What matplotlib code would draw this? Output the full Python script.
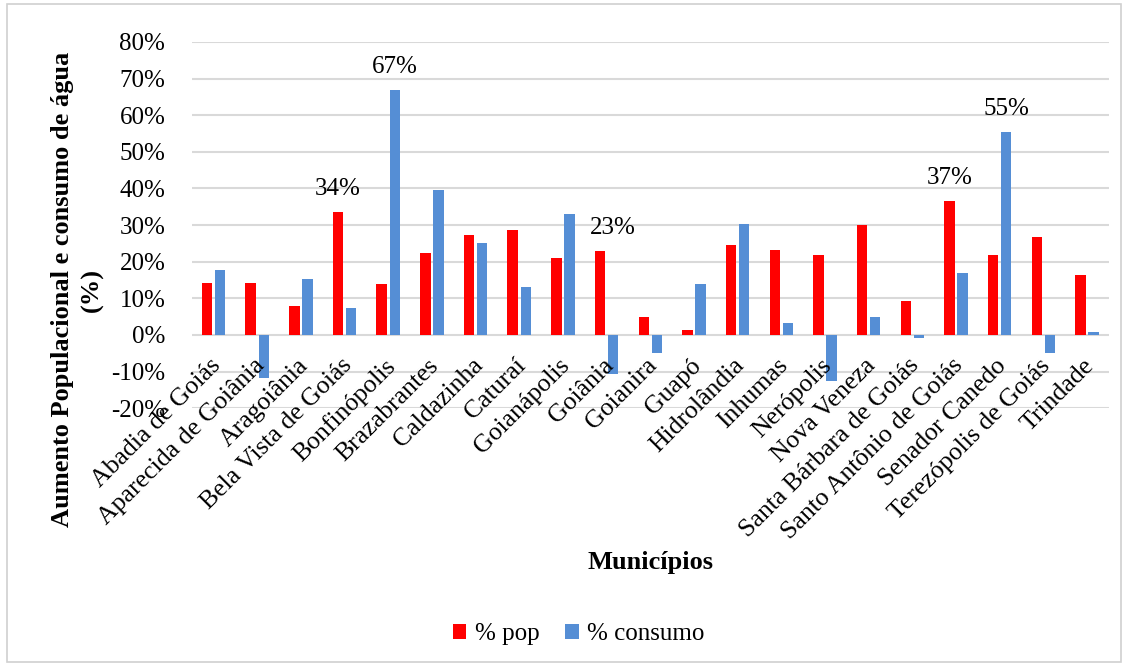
import numpy as np
import matplotlib
matplotlib.use('Agg')
import matplotlib.pyplot as plt
from matplotlib.patches import Rectangle

plt.rcParams['font.family'] = ['Liberation Serif', 'DejaVu Serif']

municipios = ['Abadia de Goiás', 'Aparecida de Goiânia', 'Aragoiânia', 'Bela Vista de Goiás',
              'Bonfinópolis', 'Brazabrantes', 'Caldazinha', 'Caturaí', 'Goianápolis', 'Goiânia',
              'Goianira', 'Guapó', 'Hidrolândia', 'Inhumas', 'Nerópolis', 'Nova Veneza',
              'Santa Bárbara de Goiás', 'Santo Antônio de Goiás', 'Senador Canedo',
              'Terezópolis de Goiás', 'Trindade']
pop = [14.3, 14.2, 7.9, 33.5, 13.8, 22.5, 27.4, 28.7, 21.0, 23.0,
       4.8, 1.4, 24.6, 23.1, 21.9, 29.9, 9.4, 36.6, 21.9, 26.7, 16.3]
consumo = [17.7, -11.7, 15.2, 7.5, 66.8, 39.7, 25.2, 13.0, 33.0, -10.6,
           -4.8, 13.8, 30.4, 3.3, -12.6, 4.8, -0.9, 16.9, 55.3, -4.9, 0.9]
# labelled bars: (index, series)
rotulos = [(3, 'pop'), (4, 'consumo'), (9, 'pop'), (17, 'pop'), (18, 'consumo')]

fig = plt.figure(figsize=(11.28, 6.66), dpi=100)
fig.patches.append(Rectangle((0.006, 0.006), 0.988, 0.988, transform=fig.transFigure,
                             fill=False, edgecolor='#d0d0d0', linewidth=1.2))
ax = fig.add_axes([0.170, 0.387, 0.813, 0.550])

x = np.arange(len(municipios))
w = 0.24
ax.bar(x - 0.15, pop, w, color='#ff0000', label='% pop', zorder=3)
ax.bar(x + 0.15, consumo, w, color='#558ed5', label='% consumo', zorder=3)

for i, s in rotulos:
    if s == 'pop':
        v, xo = pop[i], x[i] - 0.15
    else:
        v, xo = consumo[i], x[i] + 0.15
    dx = 0.3 if i == 9 else 0
    ax.text(xo + dx, v + 3.3, f'{round(v)}%', ha='center', va='bottom', fontsize=18)

ax.set_xlim(-0.5, len(municipios) - 0.5)
ax.set_ylim(-20, 80)
ax.set_yticks(np.arange(-20, 81, 10))
ax.set_yticklabels([f'{t}%' for t in range(-20, 81, 10)], fontsize=18)
ax.yaxis.grid(True, color='#d9d9d9', linewidth=1.5, zorder=0)
ax.set_axisbelow(True)
ax.tick_params(axis='y', length=0, pad=19)
ax.set_xticks([])
for sp in ax.spines.values():
    sp.set_visible(False)

for i, nome in enumerate(municipios):
    ax.annotate(nome, xy=(x[i], 0), xytext=(-3, -14), textcoords='offset points',
                rotation=45, ha='right', va='top', rotation_mode='anchor', fontsize=18.5)

fig.text(0.055, 0.565, 'Aumento Populacional e consumo de água', rotation=90,
         ha='center', va='center', fontsize=19, fontweight='bold')
fig.text(0.082, 0.565, '(%)', rotation=90, ha='center', va='center', fontsize=19,
         fontweight='bold')
fig.text(0.577, 0.155, 'Municípios', ha='center', va='center', fontsize=19, fontweight='bold')

fig.legend(loc='center', bbox_to_anchor=(0.513, 0.048), ncol=2, frameon=False, fontsize=18,
           handlelength=0.55, handleheight=0.55, handletextpad=0.35, columnspacing=1.0)

fig.savefig('out.png', dpi=100)
